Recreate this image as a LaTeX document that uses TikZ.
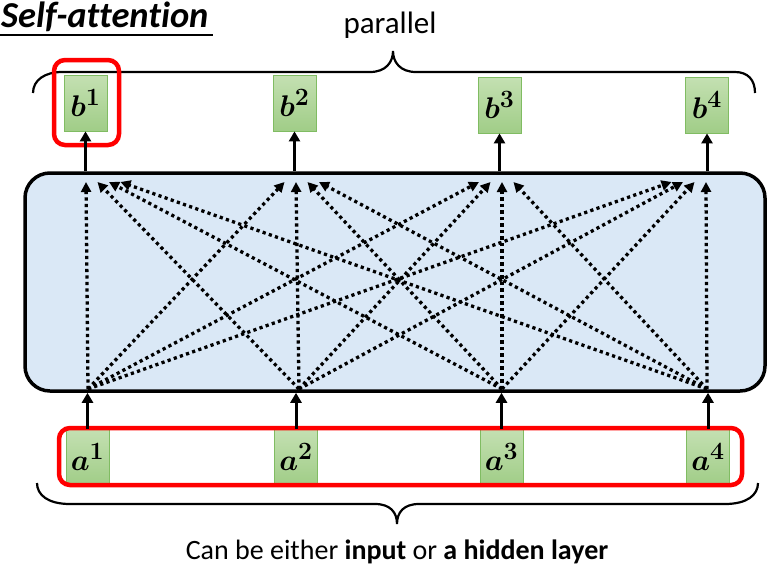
\documentclass[tikz,border=0pt]{standalone}
\usepackage{amsmath}
\usepackage{graphicx}
\usepackage{bm}
\usepackage{fontspec}
\setmainfont{Carlito}[Ligatures={NoCommon}]
\usetikzlibrary{arrows.meta,calc}
\definecolor{boxblue}{RGB}{218,232,246}
\definecolor{gtop}{RGB}{196,224,178}
\definecolor{gbot}{RGB}{160,205,135}
\definecolor{gborder}{RGB}{128,188,98}
\definecolor{hired}{RGB}{255,0,0}
\newcommand{\vecl}[2]{\scalebox{1.2}{$\bm{#1}^{\bm{#2}}$}}
\tikzset{
  vec/.style={draw=gborder, line width=0.8pt, top color=gtop, bottom color=gbot,
    minimum width=43pt, minimum height=56pt, inner sep=0pt,
    font=\fontsize{24.88}{30}\selectfont},
  solidarrow/.style={line width=3pt, -{Triangle[length=10pt,width=11pt]}},
  dotarrow/.style={line width=3.3pt, dash pattern=on 3.2pt off 3.3pt, -{Triangle[length=10pt,width=10pt]}},
  hilite/.style={draw=hired, line width=4.5pt, rounded corners=11pt},
  bracepath/.style={line width=2.2pt},
}
\begin{document}
\begin{tikzpicture}[x=1pt,y=-1pt]
\useasboundingbox (0,0) rectangle (781,574);
% title
\node[anchor=base west, inner sep=0pt, font=\fontsize{36.5}{40}\selectfont\bfseries\itshape] (title) at (1,27.5) {Self-attention};
\draw[line width=1.5pt] (0,35) -- (213,35);
% parallel
\node[anchor=base, inner sep=0pt, font=\fontsize{31}{34}\selectfont] (par) at (390,33) {parallel};
\draw[bracepath] (33,93) .. controls (33,80) and (45,72) .. (62,72) -- (370,72)
  .. controls (386,72) and (393,62) .. (393,51) .. controls (393,62) and (400,72) .. (416,72)
  -- (735,72) .. controls (748,72) and (755,80) .. (755,93);
% main box
\node[draw, line width=3.5pt, fill=boxblue, rounded corners=25pt, minimum width=740pt, minimum height=218pt] (box) at (395,282) {};
% output vectors
\node[vec] (b1) at (85.5,103) {\vecl{b}{1}};
\node[vec] (b2) at (294.5,103) {\vecl{b}{2}};
\node[vec] (b3) at (499.5,105) {\vecl{b}{3}};
\node[vec] (b4) at (707,105) {\vecl{b}{4}};
% input vectors
\node[vec] (a1) at (87.5,457) {\vecl{a}{1}};
\node[vec] (a2) at (296,457) {\vecl{a}{2}};
\node[vec] (a3) at (501.5,457) {\vecl{a}{3}};
\node[vec] (a4) at (708,457) {\vecl{a}{4}};
% highlights
\draw[hilite] (54,60) rectangle (119,145);
\draw[hilite] (59,428) rectangle (742,485);
% arrows in/out
\foreach \i in {1,...,4}{
  \draw[solidarrow] (a\i.north) -- (a\i.north |- box.south);
  \draw[solidarrow] (b\i.south |- box.north) -- (b\i.south);
}
% dotted attention arrows
\coordinate (s1) at (88,389); \coordinate (s2) at (299,389);
\coordinate (s3) at (502,389); \coordinate (s4) at (707,389);
\coordinate (t1) at (86,182); \coordinate (t2) at (296,182);
\coordinate (t3) at (502,182); \coordinate (t4) at (706,182);
\foreach \i in {1,...,4}{
  \foreach \j in {1,...,4}{
    \pgfmathsetmacro{\off}{11.5*(\i-\j)}
    \draw[dotarrow] (s\i) -- ($(t\j)+(\off,0)$);
  }
}
% bottom brace
\draw[bracepath] (37,483) .. controls (37,495) and (48,504) .. (70,504) -- (375,504)
  .. controls (390,504) and (397,512) .. (397,524) .. controls (397,512) and (404,504) .. (419,504)
  -- (725,504) .. controls (747,504) and (758,495) .. (758,483);
\node[anchor=base, inner sep=0pt, font=\fontsize{28}{31}\selectfont] (cap) at (397,559) {Can be either \textbf{input} or \textbf{a hidden layer}};
\end{tikzpicture}
\end{document}
